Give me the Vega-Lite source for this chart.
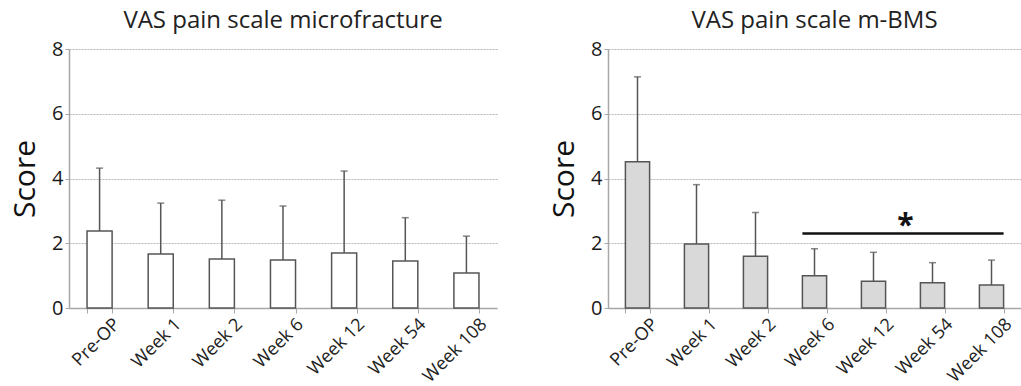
{
  "$schema": "https://vega.github.io/schema/vega-lite/v6.json",
  "background": "white",
  "padding": {"left": 10, "top": 9, "right": 0, "bottom": 0},
  "spacing": 52,
  "datasets": {
    "mf": [
      {"time": "Pre-OP", "mean": 2.38, "upper": 4.32},
      {"time": "Week 1", "mean": 1.67, "upper": 3.24},
      {"time": "Week 2", "mean": 1.51, "upper": 3.33},
      {"time": "Week 6", "mean": 1.48, "upper": 3.15},
      {"time": "Week 12", "mean": 1.7, "upper": 4.23},
      {"time": "Week 54", "mean": 1.45, "upper": 2.79},
      {"time": "Week 108", "mean": 1.08, "upper": 2.22}
    ],
    "bms": [
      {"time": "Pre-OP", "mean": 4.52, "upper": 7.14},
      {"time": "Week 1", "mean": 1.98, "upper": 3.81},
      {"time": "Week 2", "mean": 1.6, "upper": 2.95},
      {"time": "Week 6", "mean": 1.0, "upper": 1.83},
      {"time": "Week 12", "mean": 0.83, "upper": 1.72},
      {"time": "Week 54", "mean": 0.78, "upper": 1.4},
      {"time": "Week 108", "mean": 0.71, "upper": 1.48}
    ],
    "sig": [
      {"from": "Week 6", "to": "Week 108", "line": 2.3, "star": "Week 54", "starY": 2.26, "label": "*"}
    ]
  },
  "config": {
    "font": "Open Sans",
    "view": {"stroke": null},
    "title": {"fontSize": 24, "fontWeight": "normal", "color": "#222", "offset": 6, "anchor": "middle"},
    "axisY": {
      "grid": true,
      "gridColor": "#b8b8b8",
      "gridDash": [2, 1],
      "gridWidth": 1,
      "domainColor": "#a8a8a8",
      "domainWidth": 1.5,
      "tickColor": "#a8a8a8",
      "tickSize": 4,
      "labelFontSize": 20,
      "labelColor": "#1a1a1a",
      "labelPadding": 2,
      "titleFontSize": 30,
      "titleFontWeight": "normal",
      "titleColor": "#111",
      "titlePadding": 11
    },
    "axisX": {
      "title": null,
      "labelAngle": -45,
      "labelFontSize": 18,
      "labelColor": "#222",
      "labelPadding": 2,
      "labelOffset": 11,
      "tickBand": "extent",
      "tickSize": 5,
      "tickColor": "#a8a8a8",
      "domainColor": "#a8a8a8",
      "domainWidth": 1.5,
      "grid": false
    }
  },
  "hconcat": [
    {
      "width": 428,
      "height": 259,
      "title": "VAS pain scale microfracture",
      "data": {"name": "mf"},
      "encoding": {
        "x": {
          "field": "time",
          "type": "nominal",
          "sort": null,
          "scale": {"domain": ["Pre-OP", "Week 1", "Week 2", "Week 6", "Week 12", "Week 54", "Week 108"], "paddingInner": 0.59, "paddingOuter": 0.295}
        }
      },
      "layer": [
        {
          "mark": {"type": "rule", "color": "#555", "strokeWidth": 1.5},
          "encoding": {
            "y": {"field": "mean", "type": "quantitative", "scale": {"domain": [0, 8]}, "title": "Score", "axis": {"values": [0, 2, 4, 6, 8]}},
            "y2": {"field": "upper"}
          }
        },
        {
          "mark": {"type": "tick", "color": "#555", "size": 7, "thickness": 1.5, "orient": "horizontal"},
          "encoding": {"y": {"field": "upper", "type": "quantitative"}}
        },
        {
          "mark": {"type": "bar", "fill": "white", "stroke": "#555", "strokeWidth": 1.5},
          "encoding": {"y": {"field": "mean", "type": "quantitative"}}
        }
      ]
    },
    {
      "width": 413,
      "height": 259,
      "title": "VAS pain scale m-BMS",
      "encoding": {
        "x": {
          "field": "time",
          "type": "nominal",
          "sort": null,
          "scale": {"domain": ["Pre-OP", "Week 1", "Week 2", "Week 6", "Week 12", "Week 54", "Week 108"], "paddingInner": 0.59, "paddingOuter": 0.295}
        }
      },
      "layer": [
        {
          "data": {"name": "bms"},
          "mark": {"type": "rule", "color": "#555", "strokeWidth": 1.5},
          "encoding": {
            "y": {"field": "mean", "type": "quantitative", "scale": {"domain": [0, 8]}, "title": "Score", "axis": {"values": [0, 2, 4, 6, 8]}},
            "y2": {"field": "upper"}
          }
        },
        {
          "data": {"name": "bms"},
          "mark": {"type": "tick", "color": "#555", "size": 7, "thickness": 1.5, "orient": "horizontal"},
          "encoding": {"y": {"field": "upper", "type": "quantitative"}}
        },
        {
          "data": {"name": "bms"},
          "mark": {"type": "bar", "fill": "#d9d9d9", "stroke": "#555", "strokeWidth": 1.5},
          "encoding": {"y": {"field": "mean", "type": "quantitative"}}
        },
        {
          "data": {"name": "sig"},
          "mark": {"type": "rule", "color": "#111", "strokeWidth": 2.5},
          "encoding": {
            "x": {"field": "from", "type": "nominal", "bandPosition": 0},
            "x2": {"field": "to", "bandPosition": 1},
            "y": {"field": "line", "type": "quantitative"}
          }
        },
        {
          "data": {"name": "sig"},
          "mark": {"type": "text", "fontSize": 30, "fontWeight": "bold", "color": "#111", "baseline": "alphabetic", "dx": -27},
          "encoding": {
            "x": {"field": "star", "type": "nominal"},
            "y": {"field": "starY", "type": "quantitative"},
            "text": {"field": "label"}
          }
        }
      ]
    }
  ]
}
